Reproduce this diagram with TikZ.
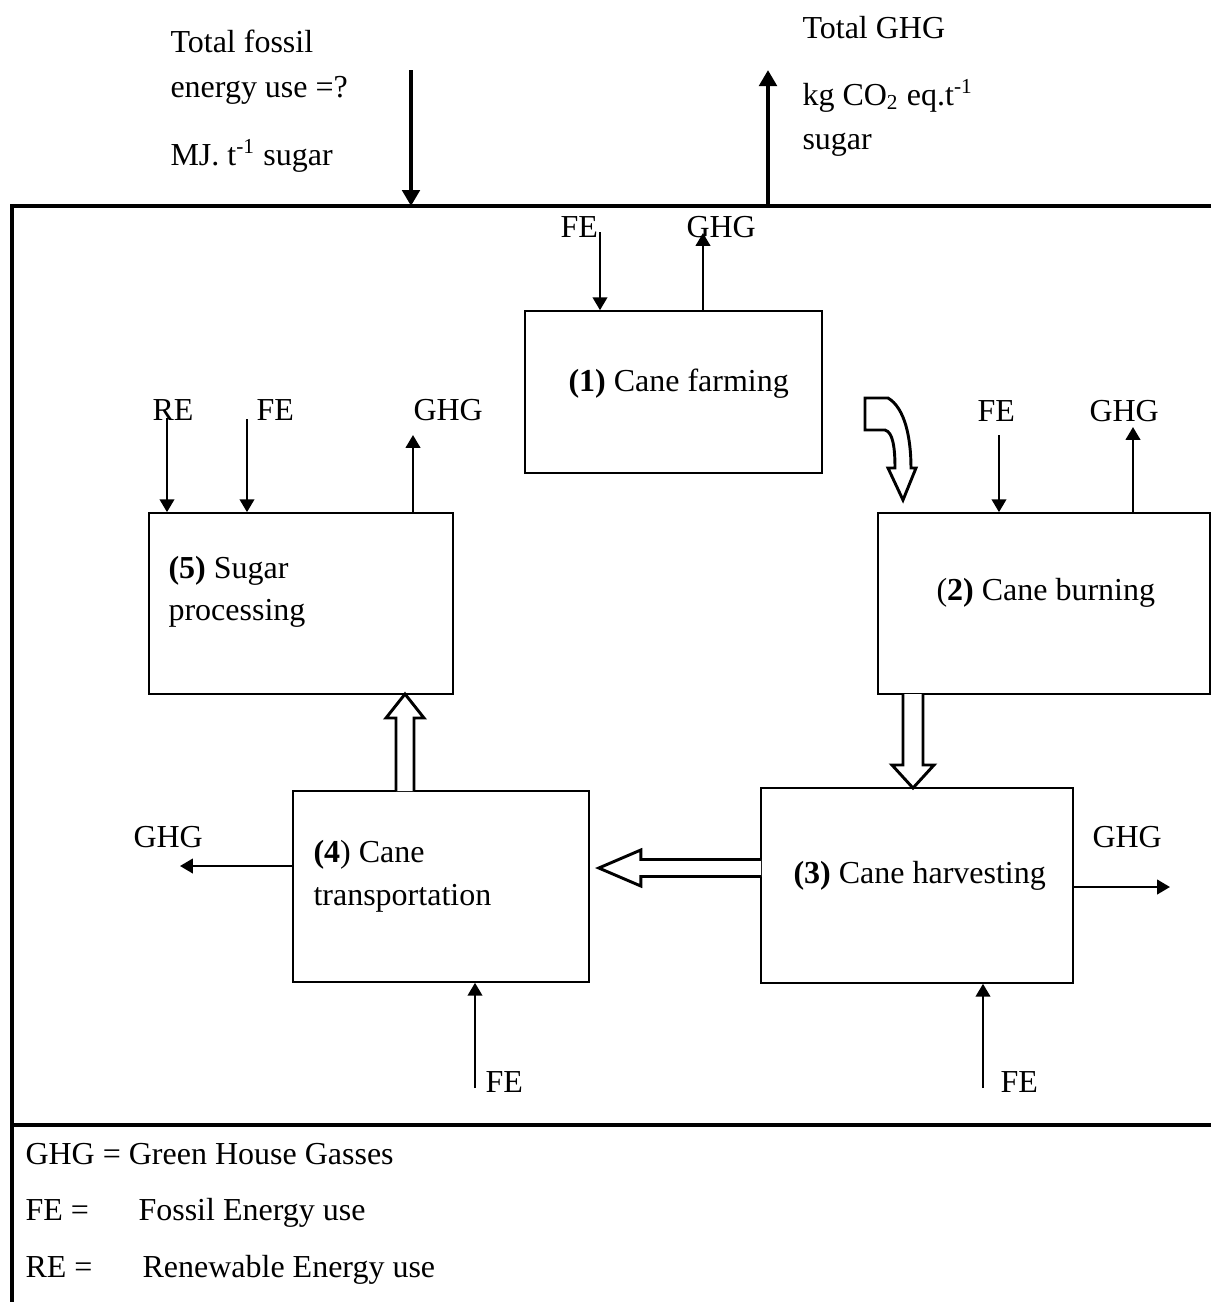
\documentclass[tikz,border=0pt]{standalone}
\usepackage{fontspec}
\setmainfont{Liberation Serif}
\usetikzlibrary{arrows.meta,calc}
\tikzset{
  stage/.style={draw,line width=0.6pt,inner sep=0pt},
  txt/.style={inner sep=0pt,anchor=base west,font=\fontsize{12}{14}\selectfont},
  flow/.style={-{Triangle[length=4.8pt,width=5.4pt]},line width=0.9pt},
  bigflow/.style={-{Triangle[length=6pt,width=6.5pt]},line width=1.8pt},
  hollow/.style={draw,line width=1.1pt,fill=white,line join=miter},
  frame/.style={line width=1.2pt},
}
\begin{document}
\begin{tikzpicture}[x=0.375pt,y=-0.375pt]
  \useasboundingbox (0,0) rectangle (1211,1302);
  % outer frame and legend rule
  \coordinate (ftop) at (12,206);
  \draw[frame] (1211,206) -- (ftop) -- (12,1302);
  \draw[frame] (12,1125) -- (1211,1125);

  % totals
  \node[txt] (tfa) at (170,52) {Total fossil};
  \node[txt] (tfb) at (170,97) {energy use =?};
  \node[txt] (tfc) at (170,165) {MJ. t\textsuperscript{-1} sugar};
  \node[txt] (tga) at (802,38) {Total GHG};
  \node[txt] (tgb) at (802,105) {kg CO\textsubscript{2} eq.t\textsuperscript{-1}};
  \node[txt] (tgc) at (802,149) {sugar};
  \coordinate (tin) at (411,70);
  \coordinate (tout) at (768,70);
  \draw[bigflow] (tin) -- (tin |- ftop);
  \draw[bigflow] (tout |- ftop) -- (tout);

  % stages
  \node[stage,minimum width=111.4pt,minimum height=60.75pt] (b1) at (673.5,392) {};
  \node[stage,minimum width=124.5pt,minimum height=67.9pt] (b2) at (1044,603.5) {};
  \node[stage,minimum width=117pt,minimum height=73.1pt] (b3) at (917,885.5) {};
  \node[stage,minimum width=111pt,minimum height=71.6pt] (b4) at (441,886.5) {};
  \node[stage,minimum width=114pt,minimum height=67.9pt] (b5) at (301,603.5) {};
  \node[txt] (t1) at (568,391) {\textbf{(1)} Cane farming};
  \node[txt] (t2) at (936,600) {(\textbf{2)} Cane burning};
  \node[txt] (t3) at (793,883) {\textbf{(3)} Cane harvesting};
  \node[txt] (t4a) at (313,862) {\textbf{(4}) Cane};
  \node[txt] (t4b) at (313,905) {transportation};
  \node[txt] (t5a) at (168,578) {\textbf{(5)} Sugar};
  \node[txt] (t5b) at (168,620) {processing};

  % inputs and outputs
  \node[txt] (l1fe) at (560,237) {FE};
  \node[txt] (l1gh) at (686,237) {GHG};
  \coordinate (fe1) at (600,232);
  \coordinate (gh1) at (703,233);
  \draw[flow] (fe1) -- (fe1 |- b1.north);
  \draw[flow] (gh1 |- b1.north) -- (gh1);

  \node[txt] (l2fe) at (977,421) {FE};
  \node[txt] (l2gh) at (1089,421) {GHG};
  \coordinate (fe2) at (999,435);
  \coordinate (gh2) at (1133,427);
  \draw[flow] (fe2) -- (fe2 |- b2.north);
  \draw[flow] (gh2 |- b2.north) -- (gh2);

  \node[txt] (l3gh) at (1092,847) {GHG};
  \node[txt] (l3fe) at (1000,1092) {FE};
  \coordinate (gh3) at (1170,887);
  \coordinate (fe3) at (983,1088);
  \draw[flow] (b3.east |- gh3) -- (gh3);
  \draw[flow] (fe3) -- (fe3 |- b3.south);

  \node[txt] (l4gh) at (133,847) {GHG};
  \node[txt] (l4fe) at (485,1092) {FE};
  \coordinate (gh4) at (180,866);
  \coordinate (fe4) at (475,1088);
  \draw[flow] (b4.west |- gh4) -- (gh4);
  \draw[flow] (fe4) -- (fe4 |- b4.south);

  \node[txt] (l5re) at (152,420) {RE};
  \node[txt] (l5fe) at (256,420) {FE};
  \node[txt] (l5gh) at (413,420) {GHG};
  \coordinate (re5) at (167,418);
  \coordinate (fe5) at (247,419);
  \coordinate (gh5) at (413,435);
  \draw[flow] (re5) -- (re5 |- b5.north);
  \draw[flow] (fe5) -- (fe5 |- b5.north);
  \draw[flow] (gh5 |- b5.north) -- (gh5);

  % block arrows between stages
  \coordinate (c12) at (865,398);
  \draw[hollow] (c12) -- ++(23,0) .. controls ++(17,10) and ++(0,-30) .. ++(23,70)
    -- ++(5,0) -- ++(-13,32) -- ++(-15,-32) -- ++(7,0)
    .. controls ++(0,-20) and ++(8,2) .. ++(-10,-38) -- (c12 |- 0,430) -- cycle;
  \coordinate (s23) at (913,694);
  \coordinate (e23) at (913,788);
  \draw[hollow] ($(s23)+(-10,0)$) -- ($(e23)+(-10,-23)$) -- ($(e23)+(-21,-23)$)
    -- (e23) -- ($(e23)+(21,-23)$) -- ($(e23)+(10,-23)$) -- ($(s23)+(10,0)$);
  \coordinate (s34) at (761,868);
  \coordinate (e34) at ($(b4.east |- s34)+(9,0)$);
  \draw[hollow] ($(s34)+(0,-8.5)$) -- ($(e34)+(42,-8.5)$) -- ($(e34)+(42,-18)$)
    -- (e34) -- ($(e34)+(42,18)$) -- ($(e34)+(42,8.5)$) -- ($(s34)+(0,8.5)$);
  \coordinate (s45) at (405,791);
  \coordinate (e45) at (405,694);
  \draw[hollow] ($(s45)+(-9,0)$) -- ($(e45)+(-9,24)$) -- ($(e45)+(-19,24)$)
    -- (e45) -- ($(e45)+(19,24)$) -- ($(e45)+(9,24)$) -- ($(s45)+(9,0)$);

  % legend
  \node[txt] (lg1) at (25,1164) {GHG = Green House Gasses};
  \node[txt] (lg2) at (25,1220) {FE =};
  \node[txt] (lg2b) at (138,1220) {Fossil Energy use};
  \node[txt] (lg3) at (25,1277) {RE =};
  \node[txt] (lg3b) at (142,1277) {Renewable Energy use};
\end{tikzpicture}
\end{document}
